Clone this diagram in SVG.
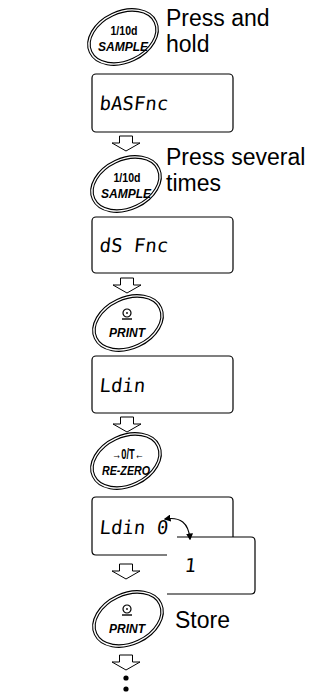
<svg xmlns="http://www.w3.org/2000/svg" width="335" height="692" viewBox="0 0 335 692">
<style>
.bg{fill:#fff}
.ell{fill:none;stroke:#000;stroke-width:1.1}
.box{fill:none;stroke:#000;stroke-width:1.2}
.seg{font-family:"DejaVu Sans Mono",monospace;font-size:19px;fill:#000}
.lbl{font-family:"Liberation Sans",Arial,sans-serif;font-size:23px;fill:#000}
.bt{font-family:"Liberation Sans",Arial,sans-serif;font-weight:bold;fill:#000;text-anchor:middle}
.arr{fill:#fff;stroke:#000;stroke-width:1}
.con{fill:none;stroke:#000;stroke-width:1.1}
</style>
<defs>
<g id="btn">
<ellipse class="ell" cx="0" cy="0" rx="37" ry="26" transform="rotate(-25)"/>
<ellipse class="ell" cx="0" cy="0" rx="34.5" ry="23.5" transform="rotate(-25)"/>
</g>
<path id="dn" class="arr" d="M-6.5,0 H6.5 V7 H14 L0,15 L-14,7 H-6.5 Z"/>
<g id="printsym">
<circle cx="0" cy="0" r="4" fill="none" stroke="#000" stroke-width="1.2"/>
<circle cx="0" cy="0" r="0.9" fill="#000"/>
<line x1="-5" y1="6" x2="5" y2="6" stroke="#000" stroke-width="1.4"/>
</g>
<marker id="ah" viewBox="0 0 10 10" refX="8" refY="5" markerWidth="7" markerHeight="7" orient="auto-start-reverse" markerUnits="userSpaceOnUse">
<path d="M0,0 L10,5 L0,10 Z" fill="#000"/>
</marker>
</defs>
<rect class="bg" width="335" height="692"/>

<g id="btn1">
<use href="#btn" x="123" y="37"/>
<text class="bt" x="124" y="35" font-size="12" textLength="27" lengthAdjust="spacingAndGlyphs">1/10d</text>
<text class="bt" x="123" y="51" font-size="13" font-style="italic" textLength="50" lengthAdjust="spacingAndGlyphs">SAMPLE</text>
</g>
<g id="lbl1">
<text class="lbl" x="166" y="26">Press and</text>
<text class="lbl" x="166" y="52">hold</text>
</g>

<g id="disp1">
<rect class="box" x="92" y="74" width="141" height="58" rx="4"/>
<text class="seg" x="99" y="110" transform="skewX(-6)" transform-origin="99 110">bASFnc</text>
</g>

<g id="btn2">
<use href="#btn" x="126" y="184"/>
<text class="bt" x="127" y="182" font-size="12" textLength="27" lengthAdjust="spacingAndGlyphs">1/10d</text>
<text class="bt" x="126" y="198" font-size="13" font-style="italic" textLength="50" lengthAdjust="spacingAndGlyphs">SAMPLE</text>
</g>
<g id="lbl2">
<text class="lbl" x="166" y="165">Press several</text>
<text class="lbl" x="166" y="191">times</text>
</g>

<g id="disp2">
<rect class="box" x="92" y="217" width="141" height="56" rx="4"/>
<text class="seg" x="99" y="252" transform="skewX(-6)" transform-origin="99 252">dS Fnc</text>
</g>

<g id="btn3">
<use href="#btn" x="128" y="323"/>
<use href="#printsym" x="127" y="313"/>
<text class="bt" x="127" y="337" font-size="13" font-style="italic" textLength="36" lengthAdjust="spacingAndGlyphs">PRINT</text>
</g>

<g id="disp3">
<rect class="box" x="92" y="356" width="141" height="57" rx="4"/>
<text class="seg" x="99" y="392" transform="skewX(-6)" transform-origin="99 392">Ldin</text>
</g>

<g id="btn4">
<use href="#btn" x="126" y="461"/>
<text class="bt" x="128" y="459" font-size="14" font-family="'DejaVu Sans',sans-serif" textLength="32" lengthAdjust="spacingAndGlyphs">→0/T←</text>
<text class="bt" x="126" y="475" font-size="13" font-style="italic" textLength="48" lengthAdjust="spacingAndGlyphs">RE-ZERO</text>
</g>

<g id="disp4">
<path class="box" d="M167,555 H96 Q92,555 92,551 V501 Q92,497 96,497 H229 Q233,497 233,501 V537"/>
<text class="seg" x="99" y="534" transform="skewX(-6)" transform-origin="99 534">Ldin 0</text>
</g>

<g id="disp5">
<path class="box" d="M177,537 H251 Q255,537 255,541 V590 Q255,594 251,594 H167"/>
<text class="seg" x="184" y="572" transform="skewX(-6)" transform-origin="184 572">1</text>
</g>

<g id="btn5">
<use href="#btn" x="128" y="619"/>
<use href="#printsym" x="127" y="609"/>
<text class="bt" x="127" y="633" font-size="13" font-style="italic" textLength="36" lengthAdjust="spacingAndGlyphs">PRINT</text>
</g>
<g id="lbl5">
<text class="lbl" x="175" y="628">Store</text>
</g>

<g id="connectors">
<use href="#dn" x="126" y="136"/>
<use href="#dn" x="127" y="278"/>
<use href="#dn" x="127" y="417"/>
<use href="#dn" x="126" y="564"/>
<use href="#dn" x="126" y="655"/>
<path class="con" d="M165,519 Q188,515 190,539" marker-start="url(#ah)" marker-end="url(#ah)"/>
<circle cx="126" cy="678" r="2.6" fill="#000"/>
<circle cx="126" cy="689" r="2.6" fill="#000"/>
</g>
</svg>
